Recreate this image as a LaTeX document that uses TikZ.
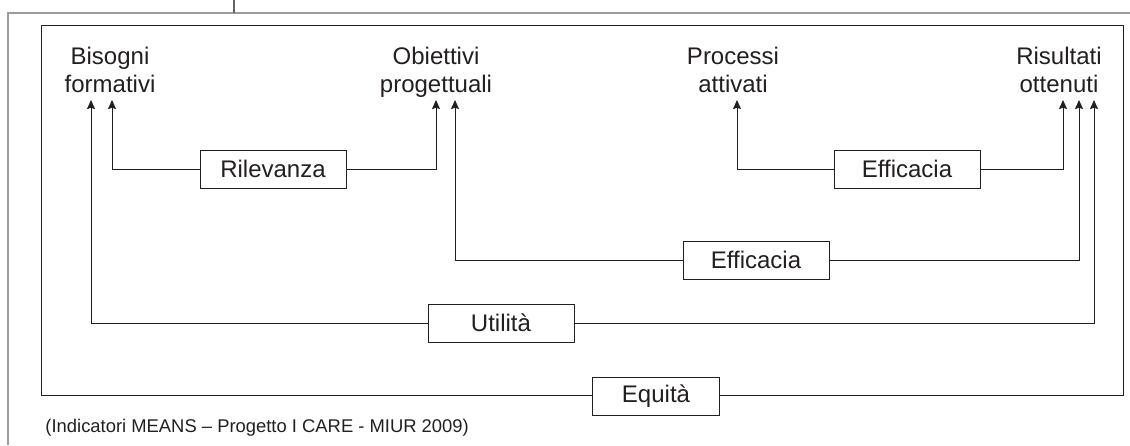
\documentclass[tikz,border=0pt]{standalone}
\usepackage{fontspec}
\setmainfont{Liberation Sans}
\usetikzlibrary{arrows.meta}

\definecolor{testo}{HTML}{231F20}
\definecolor{grigio}{HTML}{9C9C9C}

\tikzset{
  voce/.style={align=center, inner sep=0pt, anchor=north, font=\fontsize{12}{14}\selectfont},
  indice/.style={draw, fill=white, minimum width=73pt, minimum height=19pt, inner sep=0pt, font=\fontsize{12}{14}\selectfont},
  cornice/.style={grigio, line width=1pt},
}

\begin{document}
\begin{tikzpicture}[x=0.5pt, y=-0.5pt, >={Stealth[length=4.5pt,width=4pt,inset=0.6pt]}, line width=0.5pt, color=testo]
    \useasboundingbox (0,0) rectangle (1130,445);

    % 1. Cornice grigia della pagina
    \draw[cornice] (8,445) -- (8,13) -- (1130,13);
    \draw[cornice, testo!70] (234,0) -- (234,13);

    % 2. Riquadro esterno (Equità)
    \draw (41,25) rectangle (1123,395);

    % 3. Voci in alto
    \node[voce] (bisogni) at (110,47) {Bisogni\\formativi};
    \node[voce] (obiettivi) at (436,47) {Obiettivi\\progettuali};
    \node[voce] (processi) at (733,47) {Processi\\attivati};
    \node[voce] (risultati) at (1059,47) {Risultati\\ottenuti};

    % 4. Punte delle frecce sotto le voci
    \coordinate (bis1) at (91,100);
    \coordinate (bis2) at (112,100);
    \coordinate (obi1) at (436,100);
    \coordinate (obi2) at (455,100);
    \coordinate (pro1) at (737,100);
    \coordinate (ris1) at (1063,100);
    \coordinate (ris2) at (1079,100);
    \coordinate (ris3) at (1094,100);

    % 5. Indicatori
    \node[indice] (rilevanza) at (273,169) {Rilevanza};
    \node[indice] (efficacia1) at (907,169) {Efficacia};
    \node[indice] (efficacia2) at (756,260) {Efficacia};
    \node[indice] (utilita) at (501,323) {Utilità};
    \node[indice, minimum width=63.5pt] (equita) at (656,396) {Equità};

    % 6. Collegamenti
    \draw[->] (rilevanza.west) -| (bis2);
    \draw[->] (rilevanza.east) -| (obi1);
    \draw[->] (efficacia1.west) -| (pro1);
    \draw[->] (efficacia1.east) -| (ris1);
    \draw[->] (efficacia2.west) -| (obi2);
    \draw[->] (efficacia2.east) -| (ris2);
    \draw[->] (utilita.west) -| (bis1);
    \draw[->] (utilita.east) -| (ris3);

    % 7. Fonte
    \node[anchor=base west, inner sep=0pt, font=\fontsize{9.2}{11}\selectfont] (fonte) at (45,432)
        {(Indicatori MEANS – Progetto I CARE - MIUR 2009)};
\end{tikzpicture}
\end{document}
